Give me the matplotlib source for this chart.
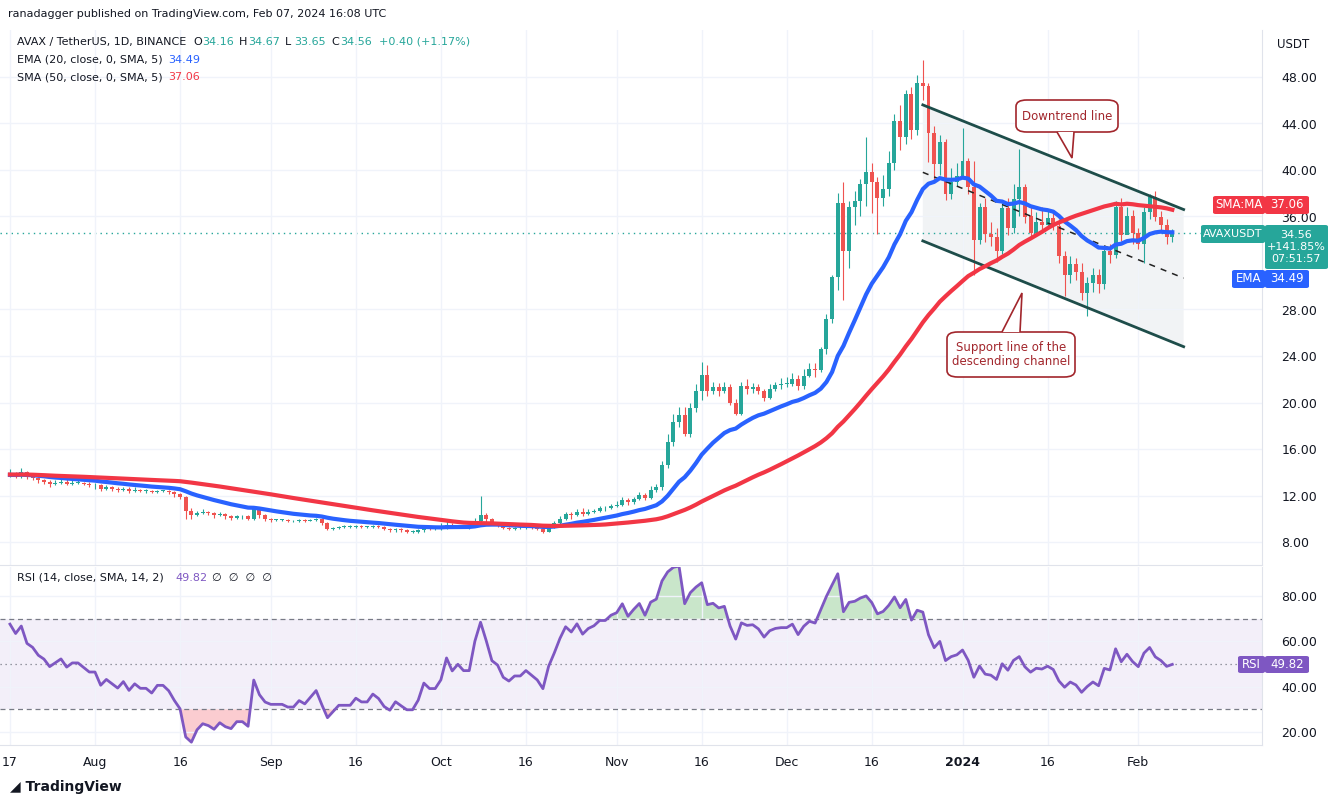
import numpy as np
import pandas as pd
import matplotlib
matplotlib.use("Agg")
import matplotlib.pyplot as plt
import matplotlib.dates as mdates
from matplotlib.patches import FancyBboxPatch, Polygon

W, H = 1343, 805

# closes before the visible window (Jun 27 .. Jul 16), only used to warm up the indicators
warmup = [13.2,13.5,13.4,13.8,13.6,13.9,14.1,13.7,13.9,14.2,13.8,14.0,13.7,13.9,14.1,13.8,13.9,14.0,13.8,13.7]

# daily closes Jul 17 2023 .. Feb 7 2024
closes = (
    [13.9,13.7,14.0,13.6,13.5,13.3,13.2,13.0,13.1,13.2,13.0,13.1,13.1,13.0,12.9]
    + [12.9,12.6,12.7,12.6,12.5,12.6,12.4,12.5,12.4,12.4,12.3,12.4,12.4,12.3,12.1,11.9,10.7,10.3,10.5,10.6,10.5,10.3,10.4,10.2,10.1,10.2,10.2,10.0,10.8,10.3,10.0]
    + [9.9,9.9,9.9,9.8,9.8,9.9,9.8,9.9,10.0,9.6,9.1,9.2,9.3,9.3,9.3,9.4,9.3,9.3,9.4,9.3,9.1,9.0,9.1,9.0,8.9,8.9,9.0,9.2,9.1,9.1]
    + [9.2,9.5,9.3,9.4,9.3,9.3,9.8,10.3,10.0,9.6,9.5,9.2,9.1,9.2,9.2,9.3,9.2,9.1,8.9,9.3,9.6,10.0,10.4,10.3,10.6,10.4,10.6,10.7,10.9,10.9,11.1]
    + [11.2,11.6,11.4,11.7,12.0,11.8,12.5,12.7,14.6,16.6,18.3,18.9,17.3,19.5,21.0,22.4,21.0,21.3,21.0,21.3,20.0,19.0,21.4,21.2,21.3,21.0,20.4,21.2,21.5,21.6]
    + [21.6,22.0,21.4,22.3,22.9,22.8,24.6,27.2,30.8,37.2,33.0,36.8,37.3,38.8,39.8,39.0,37.6,38.4,40.6,44.2,42.8,46.5,43.4,47.5,47.2,43.2,40.5,42.4,37.9,39.0,39.5]
    + [40.8,38.5,34.0,36.8,34.5,34.2,33.0,36.7,35.0,37.5,38.5,36.0,34.6,35.5,35.3,35.9,35.2,32.6,31.0,31.9,31.2,29.4,30.3,31.0,30.2,33.0,32.7,36.8,34.4,36.0,34.6]
    + [33.6,36.4,37.7,36.0,35.3,34.2,34.56]
)
highs = (
    [14.3,14.0,14.4,14.1,13.7,13.6,13.4,13.3,13.3,13.4,13.4,13.3,13.3,13.2,13.2]
    + [13.1,13.0,12.9,12.8,12.7,12.7,12.7,12.7,12.6,12.6,12.5,12.5,12.5,12.5,12.4,12.2,12.0,10.9,10.7,10.8,10.7,10.6,10.6,10.5,10.3,10.3,10.3,10.3,11.0,10.9,10.4]
    + [10.1,10.0,10.0,10.0,9.9,10.0,10.0,10.0,10.1,10.1,9.7,9.3,9.4,9.5,9.5,9.5,9.5,9.4,9.5,9.5,9.4,9.2,9.2,9.2,9.1,9.0,9.1,9.3,9.3,9.2]
    + [9.6,10.0,9.6,9.5,9.5,9.4,10.1,12.0,10.5,10.1,9.7,9.6,9.3,9.3,9.4,9.5,9.4,9.3,9.2,9.5,9.8,10.2,10.6,10.6,10.8,10.9,10.8,10.8,11.1,11.1,11.3]
    + [11.5,11.9,11.8,11.9,12.3,12.2,12.8,13.0,15.0,17.3,19.0,19.6,19.6,20.0,21.6,23.5,23.2,21.8,21.7,21.8,21.6,20.3,21.8,22.0,21.7,21.6,21.2,21.6,21.8,22.1]
    + [22.2,22.5,22.4,22.9,23.4,23.4,24.8,27.6,31.0,38.0,39.0,37.3,38.2,39.2,42.8,40.6,39.4,39.6,41.6,44.8,45.6,46.9,47.1,48.2,49.5,47.5,43.8,43.0,42.7,40.2,40.6]
    + [43.6,41.0,40.8,37.2,37.6,35.5,35.0,37.2,37.6,38.8,41.8,38.8,37.0,36.4,36.8,36.5,36.5,35.8,33.0,32.6,32.4,32.0,30.8,31.6,31.5,33.4,33.6,37.3,37.6,36.8,36.6]
    + [35.0,36.8,37.9,38.2,36.5,35.8,34.9]
)
lows = (
    [13.6,13.5,13.5,13.4,13.3,13.1,13.0,12.7,12.9,13.0,12.9,12.9,13.0,12.9,12.7]
    + [12.6,12.4,12.5,12.4,12.3,12.4,12.2,12.3,12.3,12.2,12.2,12.2,12.3,12.1,11.9,11.7,10.0,10.0,10.2,10.4,10.3,10.1,10.2,10.0,9.9,10.0,10.0,9.9,9.9,10.1,9.8]
    + [9.7,9.8,9.8,9.7,9.7,9.7,9.7,9.8,9.8,9.5,9.0,9.0,9.1,9.2,9.2,9.2,9.2,9.2,9.2,9.2,9.0,8.9,8.9,8.9,8.8,8.8,8.8,8.9,9.0,9.0]
    + [9.0,9.1,9.2,9.2,9.2,9.1,9.3,9.6,9.7,9.5,9.3,9.1,9.0,9.0,9.1,9.1,9.1,9.0,8.8,8.9,9.2,9.5,9.9,10.0,10.2,10.2,10.3,10.5,10.6,10.7,10.8]
    + [11.0,11.1,11.2,11.3,11.6,11.6,11.7,12.3,12.5,14.4,16.3,17.9,17.1,17.0,19.2,20.2,20.6,20.7,20.6,20.8,19.8,18.9,18.9,20.7,20.8,20.7,20.1,20.3,21.0,21.2]
    + [21.3,21.4,21.1,21.2,22.2,22.2,22.6,24.2,26.8,29.7,28.8,31.6,35.3,36.0,36.9,36.3,34.5,36.9,37.8,40.0,41.7,42.2,42.7,43.0,46.0,40.7,39.0,39.6,37.4,37.5,38.6]
    + [39.8,37.9,31.0,33.6,33.8,33.5,32.1,32.8,34.4,34.6,36.0,35.4,34.2,34.6,34.8,35.0,34.8,32.0,29.2,30.3,30.5,28.8,27.4,29.5,29.4,29.8,32.0,32.4,33.9,34.8,33.6]
    + [33.2,32.0,35.8,35.6,34.8,33.6,33.8]
)
first_open = 13.8

# channel lines (date, price)
upper_line = [("2023-12-25", 45.6), ("2024-02-09", 36.6)]
lower_line = [("2023-12-25", 33.9), ("2024-02-09", 24.8)]
mid_line = [("2023-12-25", 39.8), ("2024-02-09", 30.7)]

price_ticks = [8, 12, 16, 20, 24, 28, 36, 40, 44, 48]
rsi_ticks = [20, 40, 60, 80]

GREEN, RED = "#26A69A", "#EF5350"
EMA_C, SMA_C, RSI_C = "#2962FF", "#F23645", "#7E57C2"

n = len(closes)
dates = pd.date_range("2023-07-17", periods=n, freq="D")
x = mdates.date2num(dates)
full = pd.Series(warmup + closes)
opens = np.r_[first_open, np.array(closes[:-1])]
ema = full.ewm(span=20, adjust=False).mean().values[-n:]
sma = full.rolling(50, min_periods=1).mean().values[-n:]
d = full.diff()
up = d.clip(lower=0).ewm(alpha=1/14, adjust=False).mean()
dn = (-d.clip(upper=0)).ewm(alpha=1/14, adjust=False).mean()
rsi = (100 - 100 / (1 + up / dn)).values[-n:]

plt.rcParams['font.family'] = ['DejaVu Sans']
fig = plt.figure(figsize=(W/100, H/100), dpi=100)

def px(xp, yp):
    return xp / W, 1 - yp / H

aug1 = mdates.date2num(pd.Timestamp("2023-08-01"))
ppd = 5.67
xl = (aug1 - 95/ppd, aug1 + (1262-95)/ppd)

ax = fig.add_axes([0, 1-565/H, 1262/W, 535/H])
ax2 = fig.add_axes([0, 1-745/H, 1262/W, 178/H], sharex=ax)

for a in (ax, ax2):
    a.set_xlim(*xl)
    a.yaxis.tick_right()
    a.grid(color="#F0F3FA", lw=1)
    for s in ["top", "left"]:
        a.spines[s].set_visible(False)
    a.spines["right"].set_color("#E0E3EB")
    a.spines["bottom"].set_color("#E0E3EB")
    a.tick_params(length=0, labelsize=9, colors="#131722", pad=14)

ax.set_ylim(48 - 488/11.625, 48 + 47/11.625)
ax.set_yticks(price_ticks)
ax.set_yticklabels([f"{v:.2f}" for v in price_ticks])
ax.tick_params(axis="x", labelbottom=False)

# channel
ux = mdates.date2num(pd.to_datetime([p[0] for p in upper_line]))
uy = [p[1] for p in upper_line]
lx = mdates.date2num(pd.to_datetime([p[0] for p in lower_line]))
ly = [p[1] for p in lower_line]
ax.add_patch(Polygon([(ux[0], uy[0]), (ux[1], uy[1]), (lx[1], ly[1]), (lx[0], ly[0])],
                     closed=True, fc="#EEF0F3", ec="none", alpha=0.8, zorder=0))
ax.plot(ux, uy, color="#1E4D4A", lw=2, zorder=4)
ax.plot(lx, ly, color="#1E4D4A", lw=2, zorder=4)
mx = mdates.date2num(pd.to_datetime([p[0] for p in mid_line]))
ax.plot(mx, [p[1] for p in mid_line], color="#222", lw=1.1, ls=(0, (4, 4)), zorder=4)

# candles
for xi, o, h, l, cl in zip(x, opens, highs, lows, closes):
    col = GREEN if cl >= o else RED
    ax.vlines(xi, l, h, color=col, lw=0.8, zorder=2)
    ax.bar(xi, max(abs(cl - o), 0.04), bottom=min(o, cl), width=0.7, color=col, zorder=3)

ax.plot(x, ema, color=EMA_C, lw=3, zorder=5)
ax.plot(x, sma, color=SMA_C, lw=3, zorder=5)
ax.axhline(closes[-1], color=GREEN, lw=1, ls=(0, (1, 3)), zorder=1)

# callouts
def callout(x0, y0, x1, y1, tip, base, lines):
    b = FancyBboxPatch(px(x0, y1), (x1-x0)/W, (y1-y0)/H, boxstyle="round,pad=0,rounding_size=0.008",
                       transform=fig.transFigure, fc="white", ec="#A2262C", lw=1.2, zorder=10)
    fig.patches.append(b)
    tri = Polygon([px(*base[0]), px(*tip), px(*base[1])], closed=False, transform=fig.transFigure,
                  fc="white", ec="#A2262C", lw=1.2, zorder=11)
    fig.patches.append(tri)
    fig.text(*px((x0+x1)/2, (y0+y1)/2), lines, color="#A2262C", fontsize=8.5, ha="center",
             va="center", linespacing=1.2, zorder=12)

callout(1016, 100, 1118, 132, (1072, 158), [(1057, 132), (1074, 132)], "Downtrend line")
callout(947, 332, 1075, 377, (1022, 293), [(1002, 332), (1020, 332)],
        "Support line of the\ndescending channel")

# RSI
ax2.set_ylim(20 - 13/2.267, 80 + 29/2.267)
ax2.set_yticks(rsi_ticks)
ax2.set_yticklabels([f"{v:.2f}" for v in rsi_ticks])
ax2.axhspan(30, 70, color="#7E57C2", alpha=0.09, lw=0)
for lv, st in [(70, (0, (4, 3))), (50, (0, (1, 3))), (30, (0, (4, 3)))]:
    ax2.axhline(lv, color="#787B86", lw=0.9, ls=st)
ax2.fill_between(x, 70, rsi, where=rsi > 70, interpolate=True, color="#4CAF50", alpha=0.3, lw=0)
ax2.fill_between(x, 30, rsi, where=rsi < 30, interpolate=True, color="#F23645", alpha=0.25, lw=0)
ax2.plot(x, rsi, color=RSI_C, lw=2)

ticks = pd.to_datetime(["2023-07-17", "2023-08-01", "2023-08-16", "2023-09-01", "2023-09-16", "2023-10-01",
                        "2023-10-16", "2023-11-01", "2023-11-16", "2023-12-01", "2023-12-16",
                        "2024-01-01", "2024-01-16", "2024-02-01"])
labels = ["17", "Aug", "16", "Sep", "16", "Oct", "16", "Nov", "16", "Dec", "16", "2024", "16", "Feb"]
ax2.set_xticks(mdates.date2num(ticks))
ax2.set_xticklabels(labels)
ax2.tick_params(axis="x", pad=8)
for t in ax2.get_xticklabels():
    if t.get_text() == "2024":
        t.set_fontweight("bold")

# header texts
fs = 8
fig.text(*px(8, 14), "ranadagger published on TradingView.com, Feb 07, 2024 16:08 UTC", fontsize=fs,
         color="#131722", va="center")
fig.text(*px(17, 42), "AVAX / TetherUS, 1D, BINANCE", fontsize=fs, color="#131722", va="center")
xx = 193
for lab, val in [("O", "34.16"), ("H", "34.67"), ("L", "33.65"), ("C", "34.56")]:
    fig.text(*px(xx, 42), lab, fontsize=fs, color="#131722", va="center")
    fig.text(*px(xx+9, 42), val, fontsize=fs, color=GREEN, va="center")
    xx += 46
fig.text(*px(xx+2, 42), "+0.40 (+1.17%)", fontsize=fs, color=GREEN, va="center")
fig.text(*px(17, 60), "EMA (20, close, 0, SMA, 5)", fontsize=fs, color="#131722", va="center")
fig.text(*px(168, 60), "34.49", fontsize=fs, color=EMA_C, va="center")
fig.text(*px(17, 77), "SMA (50, close, 0, SMA, 5)", fontsize=fs, color="#131722", va="center")
fig.text(*px(168, 77), "37.06", fontsize=fs, color=SMA_C, va="center")
fig.text(*px(17, 578), "RSI (14, close, SMA, 14, 2)", fontsize=fs, color="#131722", va="center")
fig.text(*px(175, 578), "49.82", fontsize=fs, color=RSI_C, va="center")
fig.text(*px(212, 578), "∅  ∅  ∅  ∅", fontsize=fs, color="#131722", va="center")
fig.text(*px(1277, 44), "USDT", fontsize=8.5, color="#131722", va="center")
fig.text(*px(10, 787), "◢ TradingView", fontsize=10, color="#131722", va="center", fontweight="bold")

# right-side labels
def tag(x0, y0, w, h, txt, col, fs=8.5):
    fig.patches.append(FancyBboxPatch(px(x0, y0+h), w/W, h/H, boxstyle="round,pad=0,rounding_size=0.002",
                                      transform=fig.transFigure, fc=col, ec="none", zorder=20))
    fig.text(*px(x0+w/2, y0+h/2), txt, color="white", fontsize=fs, ha="center", va="center",
             zorder=21, linespacing=1.2)

tag(1213, 196, 52, 18, "SMA:MA", SMA_C)
tag(1265, 196, 44, 18, "37.06", SMA_C)
tag(1201, 225, 64, 18, "AVAXUSDT", GREEN, 8)
tag(1265, 225, 63, 44, "34.56\n+141.85%\n07:51:57", GREEN, 8)
tag(1232, 270, 33, 18, "EMA", EMA_C)
tag(1265, 270, 44, 18, "34.49", EMA_C)
tag(1238, 656, 27, 17, "RSI", RSI_C)
tag(1265, 656, 44, 17, "49.82", RSI_C)

fig.savefig("out.png", dpi=100, facecolor="white")
